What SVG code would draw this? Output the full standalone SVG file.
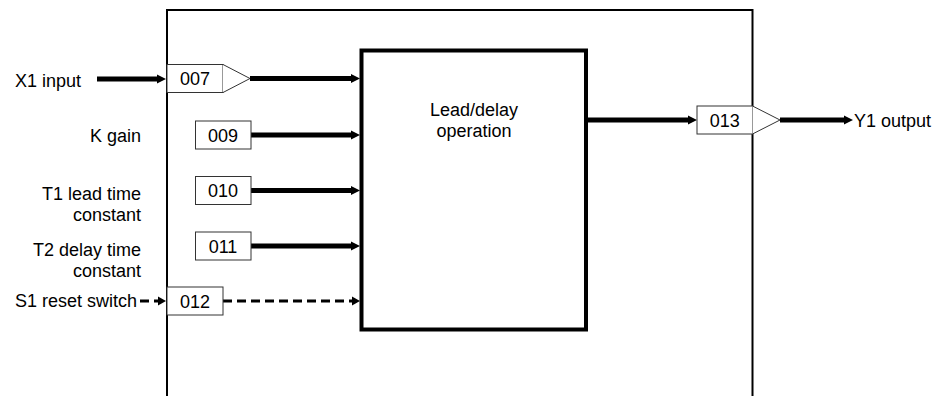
<svg xmlns="http://www.w3.org/2000/svg" width="938" height="396" viewBox="0 0 938 396">
<defs>
<style>
text{font-family:"Liberation Sans",Arial,sans-serif;font-size:18px;fill:#000}
.num{text-anchor:middle}
.lbl{text-anchor:end}
.box{fill:#fff;stroke:#333;stroke-width:1}
.tri{fill:#fff;stroke:#333;stroke-width:1}
.wire{fill:none;stroke:#000;stroke-width:5;marker-end:url(#ah)}
.dash{fill:none;stroke:#000;stroke-width:3;stroke-dasharray:9 5;marker-end:url(#ahs)}
</style>
<marker id="ah" markerUnits="userSpaceOnUse" markerWidth="10" markerHeight="10" refX="0" refY="5" orient="auto" overflow="visible">
<path d="M0,0.5 L9,5 L0,9.5 z" fill="#000"/>
</marker>
<marker id="ahs" markerUnits="userSpaceOnUse" markerWidth="10" markerHeight="10" refX="0" refY="5" orient="auto" overflow="visible">
<path d="M0,0.5 L8,5 L0,9.5 z" fill="#000"/>
</marker>
</defs>
<rect width="938" height="396" fill="#fff"/>
<g id="frame">
<path d="M167,400 V10 H752.5 V400" fill="none" stroke="#000" stroke-width="2"/>
</g>
<g id="connectors">
<path class="wire" d="M97,79 H157"/>
<path class="wire" d="M250,78.5 H351"/>
<path class="wire" d="M251,135 H351"/>
<path class="wire" d="M251,190.5 H351"/>
<path class="wire" d="M251,246 H351"/>
<path class="dash" d="M140,301 H158"/>
<path class="dash" d="M223,301 H352"/>
<path class="wire" d="M588,120 H688"/>
<path class="wire" d="M780,120 H844"/>
</g>
<g id="main">
<rect x="361.5" y="50.5" width="224.5" height="279" fill="none" stroke="#000" stroke-width="4"/>
<text x="474" y="115.5" class="num">Lead/delay</text>
<text x="474" y="137" class="num">operation</text>
</g>
<g id="n007">
<rect class="box" x="167" y="64.5" width="56" height="28"/>
<path class="tri" d="M223,64.5 L250,78.5 L223,92.5"/>
<text class="num" x="195" y="85">007</text>
</g>
<g id="n009">
<rect class="box" x="195.5" y="121" width="55.5" height="28"/>
<text class="num" x="223" y="141.5">009</text>
</g>
<g id="n010">
<rect class="box" x="195.5" y="176.5" width="55.5" height="28"/>
<text class="num" x="223" y="197">010</text>
</g>
<g id="n011">
<rect class="box" x="195.5" y="232" width="55.5" height="28"/>
<text class="num" x="223" y="252.5">011</text>
</g>
<g id="n012">
<rect class="box" x="167" y="287" width="56" height="28"/>
<text class="num" x="195" y="307.5">012</text>
</g>
<g id="n013">
<rect class="box" x="697" y="106" width="55.5" height="28"/>
<path class="tri" d="M752.5,106 L780,120 L752.5,134"/>
<text class="num" x="724.8" y="126.5">013</text>
</g>
<g id="labels">
<text x="15" y="86.5">X1 input</text>
<text class="lbl" x="141" y="141.5">K gain</text>
<text class="lbl" x="141" y="199.5">T1 lead time</text>
<text class="lbl" x="141" y="221">constant</text>
<text class="lbl" x="141" y="255.5">T2 delay time</text>
<text class="lbl" x="141" y="277">constant</text>
<text x="15" y="306.5">S1 reset switch</text>
<text x="854" y="127">Y1 output</text>
</g>
</svg>
